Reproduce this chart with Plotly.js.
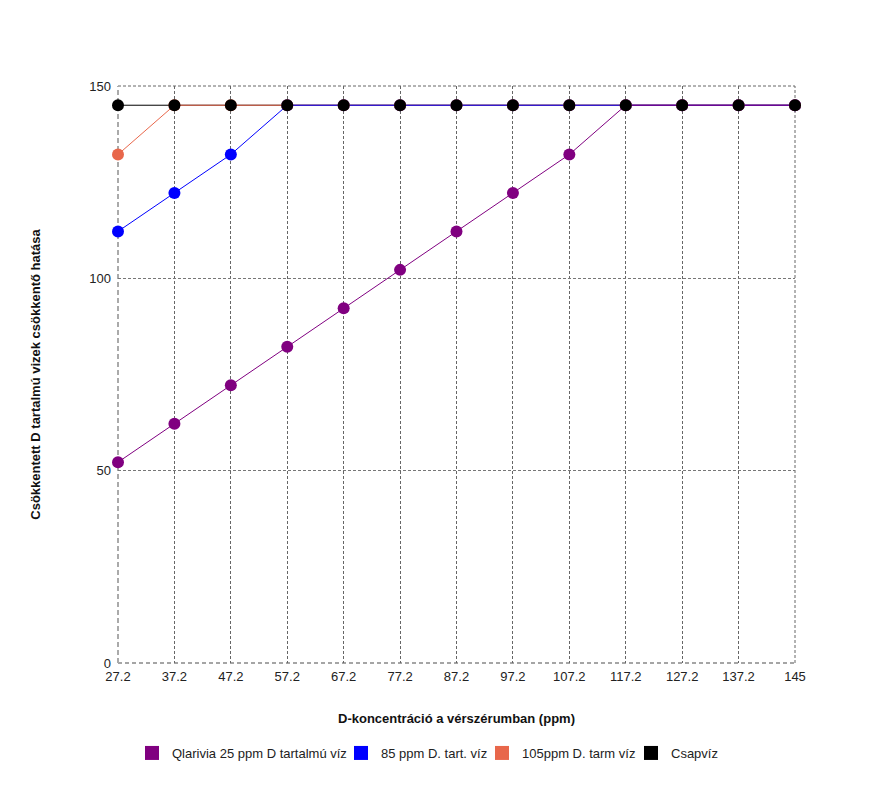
<!DOCTYPE html>
<html>
<head>
<meta charset="utf-8">
<script src="https://cdn.plot.ly/plotly-3.0.1.min.js"></script>
<style>
  html, body { margin: 0; padding: 0; background: #fff; }
  #chart { width: 870px; height: 786px; }
</style>
</head>
<body>
<div id="chart"></div>
<script>
"use strict";

// x categories (ppm)
const categories = ["27.2", "37.2", "47.2", "57.2", "67.2", "77.2", "87.2",
    "97.2", "107.2", "117.2", "127.2", "137.2", "145"];

// series values
const qlarivia = [52.2, 62.2, 72.2, 82.2, 92.2, 102.2, 112.2, 122.2, 132.2, 145, 145, 145, 145];
const ppm85 = [112.2, 122.2, 132.2, 145, 145, 145, 145, 145, 145, 145, 145, 145, 145];
const ppm105 = [132.2, 145, 145, 145, 145, 145, 145, 145, 145, 145, 145, 145, 145];
const csapviz = [145, 145, 145, 145, 145, 145, 145, 145, 145, 145, 145, 145, 145];

const yTicks = [0, 50, 100, 150];

// legend text starts (px from left of page), one legend per series
const legendTextX = [172, 381, 522, 671];

const series = [
    { name: "Qlarivia 25 ppm D tartalmú víz", y: qlarivia, color: "#800080" },
    { name: "85 ppm D. tart. víz", y: ppm85, color: "#0000ff" },
    { name: "105ppm D. tarm víz", y: ppm105, color: "#e8674b" },
    { name: "Csapvíz", y: csapviz, color: "#000000" },
];

const traces = [];
// lines: last series at the bottom, first one on top
series.slice().reverse().forEach(s => {
    traces.push({
        type: "scatter", mode: "lines", x: categories, y: s.y,
        line: { color: s.color, width: 1 },
        showlegend: false, hoverinfo: "skip", cliponaxis: false,
    });
});
// markers: drawn above all lines, in series order
series.forEach(s => {
    traces.push({
        type: "scatter", mode: "markers", x: categories, y: s.y, name: s.name,
        marker: { color: s.color, size: 12, symbol: "circle" },
        showlegend: false, cliponaxis: false,
    });
});
// legend entries with square swatches
series.forEach((s, i) => {
    traces.push({
        type: "scatter", mode: "markers", x: [null], y: [null], name: s.name,
        marker: { color: s.color, size: 14, symbol: "square" },
        showlegend: true,
        legend: i === 0 ? "legend" : "legend" + (i + 1),
    });
});

const W = 870, H = 786;

function legendAt(textX) {
    return {
        orientation: "h",
        xref: "container", yref: "container",
        x: (textX - 40) / W, xanchor: "left",
        y: 1 - 753 / H, yanchor: "middle",
        font: { size: 13, color: "#222" },
        bgcolor: "rgba(0,0,0,0)",
    };
}

const gridDash = "3px,2px";
const edge = (x0, y0, x1, y1, color, width, dash) => ({
    type: "line", xref: "paper", yref: "paper", x0, y0, x1, y1,
    line: { color, width, dash }, layer: "below",
});

const layout = {
    width: W,
    height: H,
    margin: { l: 118, r: 75, t: 86, b: 123 },
    paper_bgcolor: "#fff",
    plot_bgcolor: "#fff",
    font: { family: "Liberation Sans, Arial, sans-serif", size: 13, color: "#222" },
    showlegend: true,
    legend: legendAt(legendTextX[0]),
    legend2: legendAt(legendTextX[1]),
    legend3: legendAt(legendTextX[2]),
    legend4: legendAt(legendTextX[3]),
    shapes: [
        edge(0, 1, 1, 1, "#666", 1, gridDash),      // top
        edge(1, 0, 1, 1, "#666", 1, gridDash),      // right
        edge(0, 0, 1, 0, "#888", 1.5, "4px,3px"),   // bottom
        edge(0, 0, 0, 1, "#aaa", 2, "5px,3px"),     // left
    ],
    xaxis: {
        type: "category",
        categoryarray: categories,
        range: [0, categories.length - 1],
        showgrid: true,
        gridcolor: "#666",
        griddash: gridDash,
        gridwidth: 1,
        zeroline: false,
        showline: false,
        ticks: "",
        ticklabelstandoff: 4,
        title: {
            text: "<b>D-koncentráció a vérszérumban (ppm)</b>",
            font: { size: 13, color: "#111" },
            standoff: 30,
        },
    },
    yaxis: {
        range: [0, 150],
        tickvals: yTicks,
        ticktext: yTicks.map(String),
        showgrid: true,
        gridcolor: "#777",
        griddash: gridDash,
        gridwidth: 1,
        zeroline: false,
        showline: false,
        ticks: "",
        ticklabelstandoff: 6,
        title: {
            text: "<b>Csökkentett D tartalmú vizek csökkentő hatása</b>",
            font: { size: 13, color: "#111" },
            standoff: 45,
        },
    },
};

Plotly.newPlot("chart", traces, layout, { displayModeBar: false, staticPlot: true });
</script>
</body>
</html>
